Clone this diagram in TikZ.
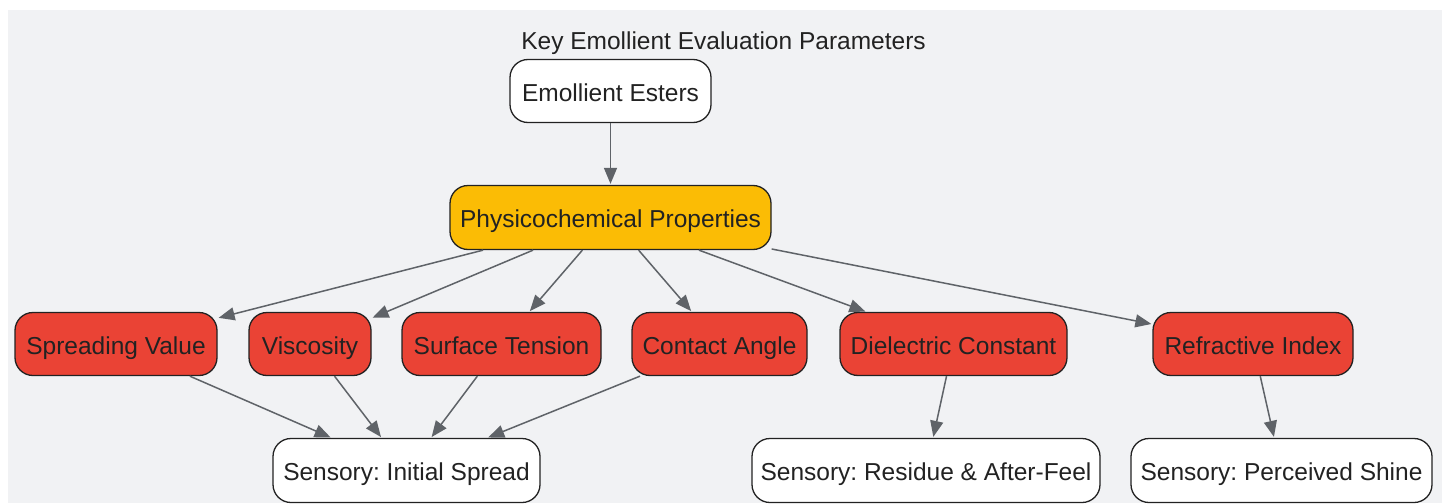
\documentclass[tikz,border=0pt]{standalone}
\usepackage{fontspec}
\setmainfont{Liberation Sans}
\frenchspacing
\usetikzlibrary{arrows.meta}
\definecolor{bgc}{HTML}{F1F2F4}
\definecolor{yel}{HTML}{FBBC05}
\definecolor{redf}{HTML}{EA4335}
\definecolor{edgec}{HTML}{5F6368}
\definecolor{bord}{HTML}{222222}
\begin{document}
\begin{tikzpicture}[x=1pt,y=-1pt,
  box/.style={draw=bord, line width=1.3pt, rounded corners=18pt, inner sep=0pt,
    minimum height=63pt, text=bord, font=\fontsize{24.5}{29}\selectfont,
    text height=21pt, text depth=1pt},
  wbox/.style={box, fill=white},
  ybox/.style={box, fill=yel},
  rbox/.style={box, fill=redf},
  conn/.style={draw=edgec, line width=1.5pt, -{Triangle[length=16pt,width=13pt]}, shorten >=1pt}
]
\useasboundingbox (0,0) rectangle (1442,503);
\fill[bgc] (8,10) rectangle (1442,503);
\node[text=bord, font=\fontsize{24.5}{29}\selectfont, text height=21pt, text depth=1pt, inner sep=0pt] (title) at (723.5,40) {Key Emollient Evaluation Parameters};
\node[wbox, minimum width=201pt] (ee) at (610.5,91) {Emollient Esters};
\node[ybox, minimum width=321pt, minimum height=64pt] (pp) at (610.5,217.5) {Physicochemical Properties};
\node[rbox, minimum width=202pt] (sv) at (116,344) {Spreading Value};
\node[rbox, minimum width=122pt] (vi) at (310,344) {Viscosity};
\node[rbox, minimum width=199pt] (st) at (501.5,344) {Surface Tension};
\node[rbox, minimum width=175pt] (ca) at (719.5,344) {Contact Angle};
\node[rbox, minimum width=227pt] (dc) at (953.5,344) {Dielectric Constant};
\node[rbox, minimum width=200pt] (ri) at (1253,344) {Refractive Index};
\node[wbox, minimum width=267pt, minimum height=64pt] (is) at (406.5,470.5) {Sensory: Initial Spread};
\node[wbox, minimum width=348pt, minimum height=64pt] (ra) at (926,470.5) {Sensory: Residue \& After-Feel};
\node[wbox, minimum width=301pt, minimum height=64pt] (ps) at (1281.5,470.5) {Sensory: Perceived Shine};
\draw[conn] (ee) -- (pp);
\draw[conn] (pp) -- (sv);
\draw[conn] (pp) -- (vi);
\draw[conn] (pp) -- (st);
\draw[conn] (pp) -- (ca);
\draw[conn] (pp) -- (dc);
\draw[conn] (pp) -- (ri);
\draw[conn] (sv) -- (is);
\draw[conn] (vi) -- (is);
\draw[conn] (st) -- (is);
\draw[conn] (ca) -- (is);
\draw[conn] (dc) -- (ra);
\draw[conn] (ri) -- (ps);
\end{tikzpicture}
\end{document}
